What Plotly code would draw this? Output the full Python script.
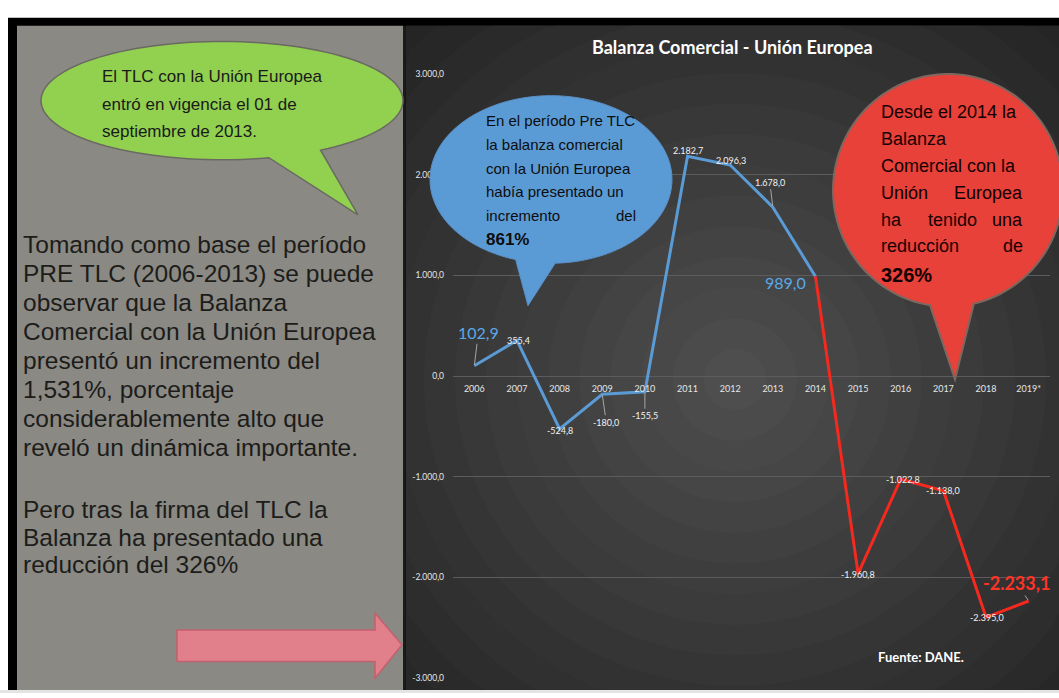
import numpy as np
import plotly.graph_objects as go

# ---------------- data ----------------
years = ["2006", "2007", "2008", "2009", "2010", "2011", "2012", "2013",
         "2014", "2015", "2016", "2017", "2018", "2019*"]
values = [102.9, 355.4, -524.8, -180.0, -155.5, 2182.7, 2096.3, 1678.0,
          989.0, -1960.8, -1022.8, -1138.0, -2395.0, -2233.1]
pre_last = 8  # index of 2014: end of the blue (pre) segment, start of red
y_ticks = [3000, 2000, 1000, 0, -1000, -2000, -3000]

title_text = "Balanza Comercial - Unión Europea"
source_text = "Fuente: DANE."
green_lines = ["El TLC con la Unión Europea", "entró en vigencia el 01 de",
               "septiembre de 2013."]
left_lines_1 = ["Tomando como base el período", "PRE TLC (2006-2013) se puede",
                "observar que la Balanza", "Comercial con la Unión Europea",
                "presentó un incremento del", "1,531%, porcentaje",
                "considerablemente alto que", "reveló un dinámica importante."]
left_lines_2 = ["Pero tras la firma del TLC la", "Balanza ha presentado una",
                "reducción del 326%"]
blue_lines = [("En el período Pre TLC", "L"), ("la balanza comercial", "L"),
              ("con la Unión Europea", "L"), ("había presentado un", "L"),
              ("incremento del", "J"), ("<b>861%</b>", "L")]
red_lines = [("Desde el 2014 la", "L"), ("Balanza", "L"), ("Comercial con la", "L"),
             ("Unión Europea", "J"), ("ha tenido una", "J"), ("reducción de", "J"),
             ("<b>326%</b>", "L")]

# ---------------- helpers ----------------
W, H = 1059, 698


def px(x):
    return x / W


def py(y):
    return 1 - y / H


def fmt_es(v):
    s = f"{v:,.1f}"
    return s.replace(",", "X").replace(".", ",").replace("X", ".")


def poly_path(pts):
    return "M " + " L ".join(f"{px(x):.5f},{py(y):.5f}" for x, y in pts) + " Z"


NARROW = "Liberation Sans Narrow, Arial Narrow, Liberation Sans, Arial, sans-serif"
SANS = "Liberation Sans, Arial, Helvetica, sans-serif"
CAL = "Lato, Carlito, Calibri, sans-serif"

fig = go.Figure()

# lines
fig.add_trace(go.Scatter(x=years[:pre_last + 1], y=values[:pre_last + 1], mode="lines",
                         line=dict(color="#5b9bd5", width=3), hoverinfo="skip",
                         showlegend=False))
fig.add_trace(go.Scatter(x=years[pre_last:], y=values[pre_last:], mode="lines",
                         line=dict(color="#f5291e", width=3), hoverinfo="skip",
                         showlegend=False))


def rect(x0, y0, x1, y1, color, layer="below", line=None):
    return dict(type="rect", xref="paper", yref="paper", layer=layer,
                x0=px(x0), x1=px(x1), y0=py(y1), y1=py(y0), fillcolor=color,
                line=line or dict(width=0))


shapes = [
    rect(0, 0, W, H, "white"),
    rect(0, 695, W, H, "#e4e4e4"),
    rect(8, 13, W, 695, "black"),
    rect(17, 21, 403, 695, "#8a8983"),
    rect(403, 21, 406, 695, "#1b1b1b"),
]

# radial gradient background: concentric rings clipped to the chart panel
BX0, BY0, BX1, BY1 = 406, 21, W, 695
cx, cy = 735, 380
n = 18
rmax = 560
angles = np.radians(np.linspace(0, 360, 181))
for i in range(n):
    r = rmax * (1 - i / n)
    t = i / (n - 1)
    c = int(round(0x1f + (0x4e - 0x1f) * t))
    pts = [(min(max(cx + r * np.cos(a), BX0), BX1), min(max(cy + r * np.sin(a), BY0), BY1))
           for a in angles]
    shapes.append(dict(type="path", xref="paper", yref="paper", layer="below",
                       path=poly_path(pts), fillcolor=f"rgb({c},{c},{c})",
                       line=dict(width=0)))


def bubble_path(cxp, cyp, rx, ry, t_start, t_end, tip, npts=120):
    ts = np.radians(np.linspace(t_start, t_end + 360, npts))
    pts = [(cxp + rx * np.cos(t), cyp + ry * np.sin(t)) for t in ts]
    pts.append(tip)
    return poly_path(pts)


# green bubble
shapes.append(dict(type="path", xref="paper", yref="paper", layer="above",
                   path=bubble_path(222, 97, 181, 60, 75, 57, (358, 213)),
                   fillcolor="#92d050", line=dict(color="#6a6a62", width=1.5)))
# blue bubble
shapes.append(dict(type="path", xref="paper", yref="paper", layer="above",
                   path=bubble_path(551, 177, 121, 85, 107, 88, (528, 305)),
                   fillcolor="#5b9bd5", line=dict(color="#5a8fc4", width=1)))
# red bubble
shapes.append(dict(type="path", xref="paper", yref="paper", layer="above",
                   path=bubble_path(948, 188, 115, 118, 99, 77, (955, 380)),
                   fillcolor="#e8413a", line=dict(color="#7d675f", width=2)))
# pink arrow
arrow_pts = [(177, 634), (375, 634), (375, 617), (402, 649), (375, 683), (375, 666), (177, 666)]
shapes.append(dict(type="path", xref="paper", yref="paper", layer="above",
                   path=poly_path(arrow_pts),
                   fillcolor="#e17f8b", line=dict(color="#c4606e", width=1.5)))

ann = []


def text(x, y, s, size, color, family, xanchor="left", bold=False):
    ann.append(dict(xref="paper", yref="paper", x=px(x), y=py(y), text=(f"<b>{s}</b>" if bold else s),
                    showarrow=False, xanchor=xanchor, yanchor="middle",
                    font=dict(size=size, color=color, family=family)))


# title & source
text(732, 43, title_text, 18, "white", CAL, "center", bold=True)
text(921, 661, source_text, 13, "white", CAL, "center", bold=True)

# green bubble text
for i, s in enumerate(green_lines):
    text(100, 73 + 27.5 * i, s, 17, "#1a1a1a", NARROW)

# left panel text
for i, s in enumerate(left_lines_1):
    text(21, 243 + 29.4 * i, s, 24.5, "#1c1c1a", SANS)
for i, s in enumerate(left_lines_2):
    text(21, 512 + 28 * i, s, 24.5, "#1c1c1a", SANS)


def bubble_text(lines, xl, xr, y0, dy, size, color, extra=None):
    for i, (s, mode) in enumerate(lines):
        y = y0 + dy * i
        if extra and i == len(lines) - 1:
            y += extra
        if mode == "L":
            text(xl, y, s, size + (2 if "<b>" in s else 0), color, NARROW)
        else:
            words = s.split(" ")
            text(xl, y, words[0], size, color, NARROW, "left")
            text(xr, y, words[-1], size, color, NARROW, "right")
            if len(words) == 3:
                text((xl + xr) / 2, y, words[1], size, color, NARROW, "center")


bubble_text(blue_lines, 484, 638, 117, 24.2, 15, "#0d0d0d")
bubble_text(red_lines, 879, 1025, 109, 27.2, 18, "#140000", extra=2)

# data labels
label_cfg = [  # dx, dy (screen px), leader line, style
    (4, -33, True, "blue"), (2, 0, False, "s"), (0, 2, False, "s"), (4, 28, True, "s"),
    (0, 24, True, "s"), (0, -6, False, "s"), (1, -5, False, "s"), (-3, -25, True, "s"),
    (-30, 6, False, "blue"), (0, 1, False, "s"), (2, 0, False, "s"), (0, 0, False, "s"),
    (1, 0, False, "s"), (-12, -18, True, "red"),
]
styles = {
    "s": dict(size=9, color="#f2f2f2", family=CAL),
    "blue": dict(size=16, color="#5aa8ea", family=CAL),
    "red": dict(size=18, color="#ff3326", family=CAL),
}
for i, (v, (dx, dy, lead, st)) in enumerate(zip(values, label_cfg)):
    t = fmt_es(v)
    if st == "red":
        t = f"<b>{t}</b>"
    a = dict(xref="x", yref="y", x=i, y=v, text=t, font=styles[st])
    if lead:
        a.update(showarrow=True, ax=dx, ay=dy, arrowhead=0, arrowwidth=1,
                 arrowcolor="#a6a6a6", standoff=1)
    else:
        a.update(showarrow=False, xshift=dx, yshift=-dy)
    ann.append(a)

ydom = [py(683), py(70)]
fig.update_layout(
    width=W, height=H, margin=dict(l=0, r=0, t=0, b=0),
    paper_bgcolor="white", plot_bgcolor="rgba(0,0,0,0)",
    shapes=shapes, annotations=ann, showlegend=False,
    xaxis=dict(domain=[px(453), px(1050)], type="category", categoryorder="array",
               categoryarray=years, range=[-0.5, len(years) - 0.5], showgrid=False,
               zeroline=False, showline=False, ticks="", anchor="free",
               position=(ydom[0] + ydom[1]) / 2, ticklabelstandoff=6,
               tickfont=dict(size=9, color="#e6e6e6", family=CAL), fixedrange=True),
    yaxis=dict(domain=ydom, range=[-3000, 3000], tickvals=y_ticks,
               ticktext=[fmt_es(v) for v in y_ticks], showgrid=True, gridcolor="#5c5c5c",
               gridwidth=1, zeroline=False, showline=False, ticks="", ticklabelstandoff=8,
               tickfont=dict(size=8.5, color="#e6e6e6", family=CAL), fixedrange=True),
)

post = ("document.body.style.margin='0';document.body.style.overflow='hidden';"
        "var d=document.getElementById('{plot_id}');d.style.position='absolute';"
        "d.style.top='0px';d.style.left='0px';window.scrollTo(0,0);")
fig.write_html("out.html", post_script=post, config={"displayModeBar": False})
